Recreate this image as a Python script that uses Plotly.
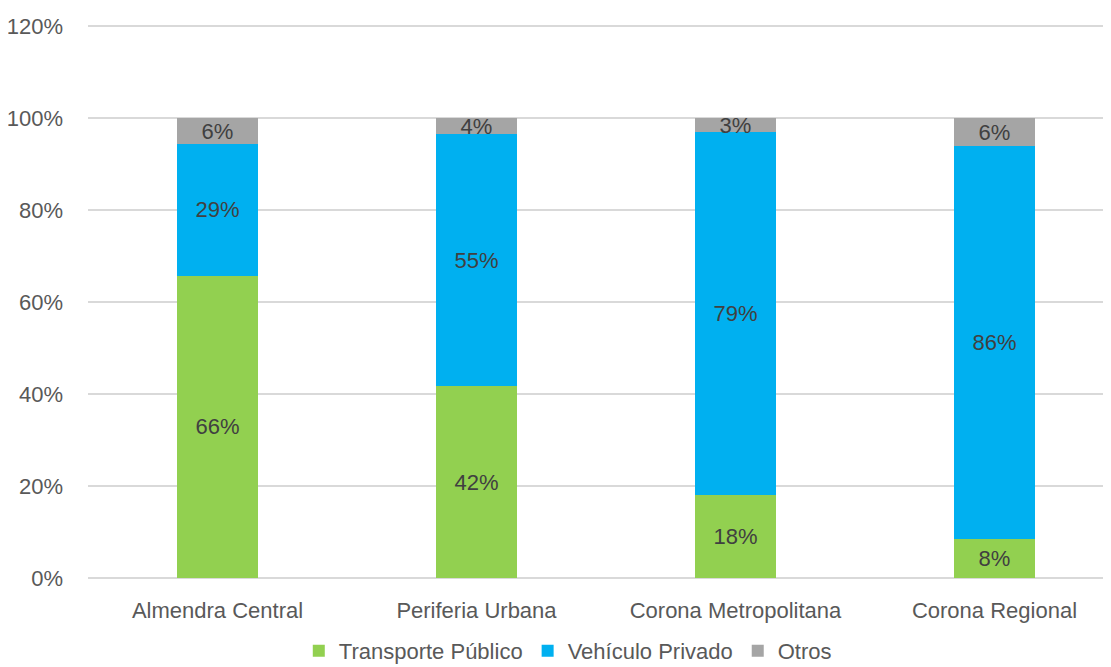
import plotly.graph_objects as go

# Chart data
categories = ["Almendra Central", "Periferia Urbana", "Corona Metropolitana", "Corona Regional"]
transporte_publico = [65.8, 41.7, 18.0, 8.4]
vehiculo_privado = [28.6, 54.8, 79.0, 85.6]
otros = [5.6, 3.5, 3.0, 6.0]
y_ticks = [0, 20, 40, 60, 80, 100, 120]
y_tick_labels = [f"{v}%" for v in y_ticks]

FONT = "Liberation Sans Narrow, Arial Narrow, Liberation Sans, sans-serif"
TEXT_COLOR = "#595959"
LABEL_COLOR = "#404040"
FONT_SIZE = 22

series = [
    ("Transporte Público", transporte_publico, "#92D050"),
    ("Vehículo Privado", vehiculo_privado, "#00B0F0"),
    ("Otros", otros, "#A5A5A5"),
]

fig = go.Figure()
for name, values, color in series:
    fig.add_trace(go.Bar(
        name=name,
        x=categories,
        y=values,
        marker=dict(color=color, line=dict(width=0)),
        text=[f"{v:.0f}%" for v in values],
        textposition="inside",
        insidetextanchor="middle",
        constraintext="none",
        textfont=dict(family=FONT, size=FONT_SIZE, color=LABEL_COLOR),
    ))

# page body has an 8px margin, so the figure is a bit smaller than the window;
# the original chart is cut off on the right, hence the short x range
fig.update_layout(
    barmode="stack",
    bargap=0.69,
    width=1103,
    height=659,
    margin=dict(l=80, r=0, t=17, b=89, autoexpand=False),
    paper_bgcolor="white",
    plot_bgcolor="white",
    font=dict(family=FONT, size=FONT_SIZE, color=TEXT_COLOR),
    legend=dict(
        orientation="h",
        x=0.469,
        xanchor="center",
        y=-0.132,
        yanchor="middle",
        font=dict(family=FONT, size=FONT_SIZE, color=TEXT_COLOR),
        traceorder="normal",
    ),
    yaxis=dict(
        range=[0, 120.3],
        tickvals=y_ticks,
        ticktext=y_tick_labels,
        showgrid=True,
        gridcolor="#D9D9D9",
        gridwidth=2,
        zeroline=True,
        zerolinecolor="#D9D9D9",
        zerolinewidth=2,
        ticklabelstandoff=24,
        automargin=False,
        tickfont=dict(family=FONT, size=FONT_SIZE, color=TEXT_COLOR),
    ),
    xaxis=dict(
        range=[-0.5, 3.45],
        showgrid=False,
        showline=False,
        ticklabelstandoff=17,
        automargin=False,
        tickfont=dict(family=FONT, size=FONT_SIZE, color=TEXT_COLOR),
    ),
)

fig.write_html("out.html")
